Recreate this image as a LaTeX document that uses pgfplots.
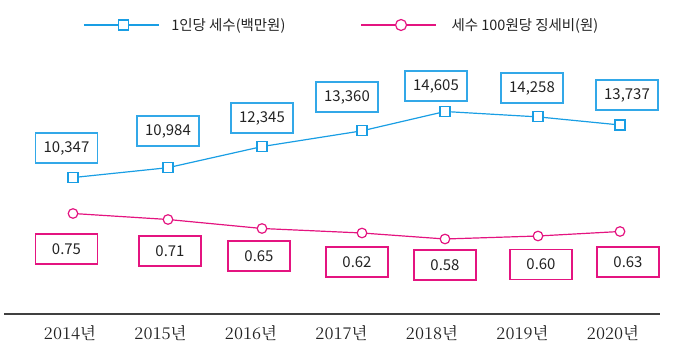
\documentclass[border=0pt]{standalone}
\usepackage{pgfplots}
\pgfplotsset{compat=1.18}
\usepackage{fontspec}
\setmainfont{Noto Sans CJK KR}
\newfontfamily\serifkr{Noto Serif CJK KR}
\definecolor{cblue}{RGB}{25,158,228}
\definecolor{cbox}{RGB}{50,168,232}
\definecolor{cpink}{RGB}{228,20,128}
\definecolor{ctext}{RGB}{35,35,35}
\begin{document}
\begin{tikzpicture}
\useasboundingbox (0,0) rectangle (680bp,355bp);
\begin{axis}[
  at={(4bp,41bp)}, anchor=south west,
  scale only axis, width=656bp, height=314bp,
  xmin=4, xmax=660, ymin=1552, ymax=21793,
  clip=false,
  axis x line=bottom, axis y line=none,
  x axis line style={-, draw=black!75, line width=1.3bp},
  xtick={70,160.5,251,341.5,432,522.5,613},
  xticklabels={2014년,2015년,2016년,2017년,2018년,2019년,2020년},
  xticklabel style={font=\serifkr\fontsize{16.5}{19}\selectfont, text=ctext, anchor=center, yshift=-19bp},
  major tick length=0pt,
  legend style={at={(0.1204,0.9204)}, anchor=west, draw=none, fill=none, inner sep=0pt,
    font=\fontsize{14.5}{17}\selectfont, text=ctext,
    /tikz/column 1/.style={column sep=10bp},
    /tikz/column 2/.style={column sep=73bp},
    /tikz/column 3/.style={column sep=13bp},
    nodes={inner sep=2bp}},
  legend columns=2,
  legend image code/.code={\draw[mark repeat=2,mark phase=2,#1] plot coordinates {(0bp,0bp) (40bp,0bp) (75bp,0bp)};},
]
\addplot[cblue, line width=1.2bp, mark=square*, mark size=5bp, mark options={fill=white, draw=cblue, line width=1.2bp}]
  coordinates {(73,10347) (168,10984) (262,12345) (362,13360) (445,14605) (538,14258) (620,13737)};
\addlegendentry{1인당 세수(백만원)}
\addlegendimage{cpink, line width=1.2bp, mark=*, mark size=5.5bp, mark options={fill=white, draw=cpink, line width=1.2bp}}
\addlegendentry{세수 100원당 징세비(원)}
\end{axis}
\begin{axis}[
  at={(4bp,41bp)}, anchor=south west,
  scale only axis, width=656bp, height=314bp,
  xmin=4, xmax=660, ymin=0.0800, ymax=2.1733,
  clip=false, axis lines=none, ticks=none,
]
\addplot[cpink, line width=1.2bp, mark=*, mark size=4.8bp, mark options={fill=white, draw=cpink, line width=1.2bp}]
  coordinates {(73,0.75) (168,0.71) (262,0.65) (362,0.62) (445,0.58) (538,0.60) (620,0.63)};
\end{axis}
\tikzset{
  bbox/.style={draw=cbox, line width=1.2bp, fill=white, minimum width=62bp, minimum height=30bp, inner sep=0pt, text=ctext, font=\fontsize{15}{18}\selectfont},
  pbox/.style={bbox, draw=cpink}}
\node[bbox] at (66.5bp,207bp) {10,347};
\node[bbox] at (168bp,224bp) {10,984};
\node[bbox] at (262bp,237bp) {12,345};
\node[bbox] at (347bp,258bp) {13,360};
\node[bbox] at (436bp,269bp) {14,605};
\node[bbox] at (532bp,267bp) {14,258};
\node[bbox] at (627bp,260bp) {13,737};
\node[pbox] at (66.5bp,106bp) {0.75};
\node[pbox] at (170bp,104bp) {0.71};
\node[pbox] at (259bp,99bp) {0.65};
\node[pbox] at (357bp,93bp) {0.62};
\node[pbox] at (445bp,90bp) {0.58};
\node[pbox] at (541bp,90.5bp) {0.60};
\node[pbox] at (628bp,93bp) {0.63};
\end{tikzpicture}
\end{document}
